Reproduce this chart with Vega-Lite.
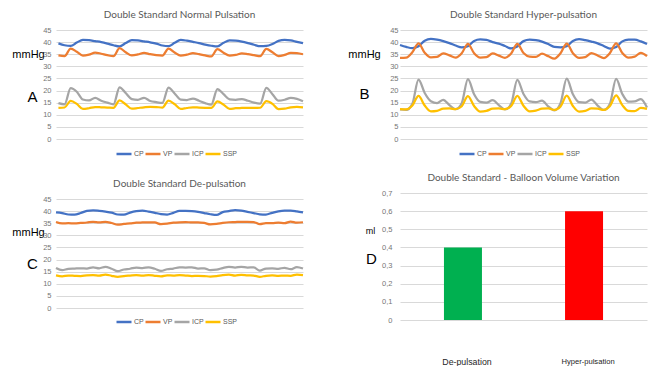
{
  "$schema": "https://vega.github.io/schema/vega-lite/v6.json",
  "padding": {"left": 11, "top": 10, "right": 0, "bottom": 0},
  "background": "white",
  "config": {
    "view": {"stroke": null},
    "axis": {"labelColor": "#767676", "labelFontSize": 7.5, "labelFont": "Liberation Sans", "gridColor": "#d9d9d9", "gridWidth": 1, "domain": false, "ticks": false, "labelPadding": 5},
    "title": {"font": "Lato", "fontSize": 10, "fontWeight": "normal", "color": "#595959", "offset": 6},
    "legend": {"labelFont": "Liberation Sans", "labelFontSize": 7, "labelColor": "#595959"}
  },
  "datasets": {
    "A": [
      {"t":0,"CP":39.5,"VP":34.5,"ICP":14.8,"SSP":12.8},
      {"t":1,"CP":38.7,"VP":34.2,"ICP":14.3,"SSP":13.0},
      {"t":2,"CP":38.4,"VP":37.3,"ICP":21.0,"SSP":15.7},
      {"t":3,"CP":39.8,"VP":36.0,"ICP":19.5,"SSP":14.5},
      {"t":4,"CP":40.9,"VP":34.4,"ICP":16.3,"SSP":12.4},
      {"t":5,"CP":40.8,"VP":34.8,"ICP":15.9,"SSP":12.7},
      {"t":6,"CP":40.4,"VP":35.7,"ICP":17.0,"SSP":13.2},
      {"t":7,"CP":40.0,"VP":35.2,"ICP":15.8,"SSP":13.1},
      {"t":8,"CP":39.4,"VP":34.6,"ICP":15.0,"SSP":13.0},
      {"t":9,"CP":38.7,"VP":34.2,"ICP":14.3,"SSP":12.9},
      {"t":10,"CP":38.2,"VP":37.5,"ICP":21.3,"SSP":15.9},
      {"t":11,"CP":39.6,"VP":35.8,"ICP":19.0,"SSP":14.3},
      {"t":12,"CP":40.8,"VP":34.5,"ICP":16.5,"SSP":12.5},
      {"t":13,"CP":40.7,"VP":34.9,"ICP":16.2,"SSP":12.8},
      {"t":14,"CP":40.3,"VP":35.6,"ICP":17.0,"SSP":13.1},
      {"t":15,"CP":39.9,"VP":35.0,"ICP":15.7,"SSP":13.3},
      {"t":16,"CP":39.4,"VP":34.6,"ICP":15.2,"SSP":13.2},
      {"t":17,"CP":38.6,"VP":34.4,"ICP":14.9,"SSP":13.0},
      {"t":18,"CP":38.3,"VP":37.3,"ICP":21.2,"SSP":15.8},
      {"t":19,"CP":39.7,"VP":35.7,"ICP":18.8,"SSP":14.4},
      {"t":20,"CP":40.9,"VP":34.4,"ICP":16.3,"SSP":12.4},
      {"t":21,"CP":40.6,"VP":34.8,"ICP":16.1,"SSP":12.8},
      {"t":22,"CP":40.1,"VP":35.5,"ICP":16.7,"SSP":13.1},
      {"t":23,"CP":39.6,"VP":35.0,"ICP":15.8,"SSP":13.0},
      {"t":24,"CP":39.0,"VP":34.5,"ICP":14.8,"SSP":12.9},
      {"t":25,"CP":38.5,"VP":34.1,"ICP":14.2,"SSP":12.8},
      {"t":26,"CP":38.2,"VP":37.1,"ICP":20.6,"SSP":15.5},
      {"t":27,"CP":39.7,"VP":35.6,"ICP":18.5,"SSP":14.2},
      {"t":28,"CP":40.7,"VP":34.4,"ICP":16.4,"SSP":12.4},
      {"t":29,"CP":40.6,"VP":34.7,"ICP":16.2,"SSP":12.7},
      {"t":30,"CP":40.2,"VP":35.3,"ICP":16.5,"SSP":12.8},
      {"t":31,"CP":39.6,"VP":35.0,"ICP":15.8,"SSP":12.9},
      {"t":32,"CP":38.9,"VP":34.6,"ICP":15.0,"SSP":12.8},
      {"t":33,"CP":38.3,"VP":34.2,"ICP":14.6,"SSP":12.9},
      {"t":34,"CP":38.4,"VP":37.2,"ICP":21.1,"SSP":15.6},
      {"t":35,"CP":39.2,"VP":35.8,"ICP":18.5,"SSP":14.5},
      {"t":36,"CP":40.5,"VP":34.2,"ICP":15.8,"SSP":12.3},
      {"t":37,"CP":40.9,"VP":34.7,"ICP":16.2,"SSP":12.5},
      {"t":38,"CP":40.7,"VP":35.6,"ICP":17.0,"SSP":13.1},
      {"t":39,"CP":40.1,"VP":35.5,"ICP":16.6,"SSP":13.3},
      {"t":40,"CP":39.6,"VP":35.0,"ICP":15.6,"SSP":13.1}
    ],
    "B": [
      {"t":0,"CP":38.8,"VP":33.5,"ICP":12.2,"SSP":12.3},
      {"t":1,"CP":38.0,"VP":33.6,"ICP":12.0,"SSP":12.2},
      {"t":2,"CP":37.5,"VP":35.8,"ICP":14.5,"SSP":13.8},
      {"t":3,"CP":38.3,"VP":39.5,"ICP":24.5,"SSP":17.8},
      {"t":4,"CP":40.6,"VP":35.6,"ICP":19.0,"SSP":13.8},
      {"t":5,"CP":41.3,"VP":33.7,"ICP":15.6,"SSP":11.4},
      {"t":6,"CP":41.0,"VP":33.9,"ICP":14.8,"SSP":11.6},
      {"t":7,"CP":40.4,"VP":35.4,"ICP":16.2,"SSP":12.5},
      {"t":8,"CP":39.6,"VP":34.5,"ICP":14.0,"SSP":12.6},
      {"t":9,"CP":38.6,"VP":33.6,"ICP":12.3,"SSP":12.3},
      {"t":10,"CP":37.8,"VP":35.4,"ICP":14.8,"SSP":13.5},
      {"t":11,"CP":38.3,"VP":39.3,"ICP":24.7,"SSP":17.7},
      {"t":12,"CP":40.5,"VP":35.4,"ICP":18.5,"SSP":13.6},
      {"t":13,"CP":41.1,"VP":33.6,"ICP":15.3,"SSP":11.3},
      {"t":14,"CP":40.9,"VP":33.8,"ICP":15.0,"SSP":11.6},
      {"t":15,"CP":40.0,"VP":35.3,"ICP":16.0,"SSP":12.5},
      {"t":16,"CP":39.4,"VP":34.4,"ICP":14.0,"SSP":12.6},
      {"t":17,"CP":38.4,"VP":33.5,"ICP":12.2,"SSP":12.3},
      {"t":18,"CP":37.4,"VP":35.3,"ICP":14.5,"SSP":13.6},
      {"t":19,"CP":38.2,"VP":39.3,"ICP":24.4,"SSP":17.8},
      {"t":20,"CP":40.4,"VP":35.5,"ICP":18.6,"SSP":13.7},
      {"t":21,"CP":41.0,"VP":34.0,"ICP":15.5,"SSP":11.4},
      {"t":22,"CP":40.8,"VP":33.9,"ICP":15.2,"SSP":11.7},
      {"t":23,"CP":40.2,"VP":35.2,"ICP":15.8,"SSP":12.5},
      {"t":24,"CP":39.2,"VP":34.2,"ICP":13.5,"SSP":12.6},
      {"t":25,"CP":38.0,"VP":33.2,"ICP":11.8,"SSP":12.0},
      {"t":26,"CP":37.8,"VP":35.4,"ICP":14.8,"SSP":13.4},
      {"t":27,"CP":38.3,"VP":39.4,"ICP":24.9,"SSP":17.9},
      {"t":28,"CP":40.5,"VP":35.4,"ICP":18.5,"SSP":13.6},
      {"t":29,"CP":41.2,"VP":33.5,"ICP":15.2,"SSP":11.3},
      {"t":30,"CP":40.8,"VP":33.8,"ICP":15.0,"SSP":11.6},
      {"t":31,"CP":40.2,"VP":35.5,"ICP":16.3,"SSP":12.6},
      {"t":32,"CP":39.5,"VP":34.5,"ICP":13.8,"SSP":12.5},
      {"t":33,"CP":38.4,"VP":33.4,"ICP":12.0,"SSP":12.0},
      {"t":34,"CP":37.3,"VP":35.5,"ICP":14.6,"SSP":13.6},
      {"t":35,"CP":38.0,"VP":39.5,"ICP":24.8,"SSP":18.0},
      {"t":36,"CP":40.3,"VP":35.5,"ICP":18.6,"SSP":14.0},
      {"t":37,"CP":41.0,"VP":33.6,"ICP":15.4,"SSP":11.6},
      {"t":38,"CP":41.0,"VP":34.0,"ICP":15.5,"SSP":11.5},
      {"t":39,"CP":40.3,"VP":35.6,"ICP":16.5,"SSP":12.8},
      {"t":40,"CP":39.2,"VP":34.2,"ICP":13.0,"SSP":12.4}
    ],
    "C": [
      {"t":0,"CP":39.5,"VP":35.5,"ICP":16.5,"SSP":13.5},
      {"t":1,"CP":39.2,"VP":34.9,"ICP":15.6,"SSP":13.1},
      {"t":2,"CP":38.6,"VP":35.0,"ICP":16.2,"SSP":13.4},
      {"t":3,"CP":38.5,"VP":34.9,"ICP":16.3,"SSP":13.3},
      {"t":4,"CP":39.2,"VP":35.1,"ICP":16.4,"SSP":13.2},
      {"t":5,"CP":40.1,"VP":35.3,"ICP":16.3,"SSP":13.5},
      {"t":6,"CP":40.3,"VP":35.6,"ICP":16.8,"SSP":13.6},
      {"t":7,"CP":40.1,"VP":35.4,"ICP":16.4,"SSP":13.4},
      {"t":8,"CP":39.8,"VP":35.6,"ICP":17.0,"SSP":13.8},
      {"t":9,"CP":39.4,"VP":35.1,"ICP":16.2,"SSP":13.3},
      {"t":10,"CP":38.6,"VP":34.4,"ICP":15.2,"SSP":12.9},
      {"t":11,"CP":38.5,"VP":34.7,"ICP":15.9,"SSP":13.2},
      {"t":12,"CP":39.4,"VP":34.9,"ICP":16.2,"SSP":13.4},
      {"t":13,"CP":40.0,"VP":35.2,"ICP":16.7,"SSP":13.6},
      {"t":14,"CP":40.2,"VP":35.3,"ICP":16.5,"SSP":13.4},
      {"t":15,"CP":39.8,"VP":35.4,"ICP":16.8,"SSP":13.6},
      {"t":16,"CP":39.3,"VP":35.3,"ICP":16.2,"SSP":13.3},
      {"t":17,"CP":38.8,"VP":34.6,"ICP":15.3,"SSP":13.1},
      {"t":18,"CP":38.6,"VP":34.8,"ICP":16.0,"SSP":13.5},
      {"t":19,"CP":39.3,"VP":35.2,"ICP":16.3,"SSP":13.4},
      {"t":20,"CP":40.1,"VP":35.4,"ICP":16.8,"SSP":13.6},
      {"t":21,"CP":40.1,"VP":35.5,"ICP":16.7,"SSP":13.4},
      {"t":22,"CP":40.0,"VP":35.3,"ICP":16.8,"SSP":13.2},
      {"t":23,"CP":39.7,"VP":35.4,"ICP":16.3,"SSP":13.3},
      {"t":24,"CP":39.2,"VP":35.1,"ICP":16.4,"SSP":13.2},
      {"t":25,"CP":38.7,"VP":34.5,"ICP":15.6,"SSP":13.0},
      {"t":26,"CP":38.4,"VP":34.7,"ICP":15.8,"SSP":13.2},
      {"t":27,"CP":39.6,"VP":35.1,"ICP":16.5,"SSP":13.6},
      {"t":28,"CP":40.0,"VP":35.4,"ICP":17.0,"SSP":13.8},
      {"t":29,"CP":40.4,"VP":35.5,"ICP":16.7,"SSP":13.4},
      {"t":30,"CP":40.2,"VP":35.6,"ICP":17.0,"SSP":13.7},
      {"t":31,"CP":39.7,"VP":35.6,"ICP":16.7,"SSP":13.5},
      {"t":32,"CP":39.2,"VP":35.5,"ICP":16.8,"SSP":13.4},
      {"t":33,"CP":38.7,"VP":34.6,"ICP":15.4,"SSP":12.9},
      {"t":34,"CP":38.6,"VP":35.0,"ICP":16.3,"SSP":13.3},
      {"t":35,"CP":39.3,"VP":35.0,"ICP":16.4,"SSP":13.5},
      {"t":36,"CP":39.9,"VP":35.2,"ICP":16.2,"SSP":13.3},
      {"t":37,"CP":40.2,"VP":35.0,"ICP":16.6,"SSP":13.4},
      {"t":38,"CP":40.2,"VP":35.7,"ICP":16.0,"SSP":13.3},
      {"t":39,"CP":39.9,"VP":35.2,"ICP":16.9,"SSP":13.8},
      {"t":40,"CP":39.5,"VP":35.4,"ICP":16.3,"SSP":13.6}
    ],
    "D": [
      {"group": "De-pulsation", "volume": 0.4},
      {"group": "Hyper-pulsation", "volume": 0.6}
    ]
  },
  "hconcat": [
    {
      "vconcat": [
        {
          "width": 247, "height": 109,
          "title": "Double Standard Normal Pulsation",
          "data": {"name": "A"},
          "transform": [{"fold": ["CP", "VP", "ICP", "SSP"], "as": ["series", "value"]}],
          "layer": [
            {
              "mark": {"type": "line", "interpolate": "monotone", "strokeWidth": 2.25},
              "encoding": {
                "x": {"field": "t", "type": "quantitative", "axis": null, "scale": {"domain": [-0.4, 40], "nice": false, "zero": false}},
                "y": {"field": "value", "type": "quantitative", "scale": {"domain": [0, 45], "nice": false}, "axis": {"values": [0,5,10,15,20,25,30,35,40,45], "title": "mmHg", "titleAngle": 0, "titleX": -28, "titleY": 24, "titleAlign": "center", "titleBaseline": "middle", "titleFont": "Liberation Sans", "titleFontSize": 11, "titleFontWeight": "normal", "titleColor": "#000000"}},
                "color": {"field": "series", "type": "nominal", "sort": ["CP", "VP", "ICP", "SSP"], "scale": {"domain": ["CP", "VP", "ICP", "SSP"], "range": ["#4472C4", "#ED7D31", "#A5A5A5", "#FFC000"]}, "legend": {"orient": "none", "legendX": 59, "legendY": 115, "direction": "horizontal", "title": null, "symbolType": "stroke", "symbolSize": 225, "symbolStrokeWidth": 2.5, "labelOffset": 1, "columnPadding": -10}}
              }
            },
            {
              "mark": {"type": "rule", "opacity": 0},
              "encoding": {
                "y": {"datum": 0, "type": "quantitative", "axis": {"orient": "left", "labels": false, "grid": false, "title": "A", "titleAngle": 0, "titleX": -24, "titleY": 66, "titleAlign": "center", "titleBaseline": "middle", "titleFont": "Liberation Sans", "titleFontSize": 15, "titleFontWeight": "normal", "titleColor": "#000000"}}
              }
            }
          ],
          "resolve": {"axis": {"y": "independent"}}
        },
        {
          "width": 247, "height": 109,
          "title": "Double Standard De-pulsation",
          "data": {"name": "C"},
          "transform": [{"fold": ["CP", "VP", "ICP", "SSP"], "as": ["series", "value"]}],
          "layer": [
            {
              "mark": {"type": "line", "interpolate": "monotone", "strokeWidth": 2.25},
              "encoding": {
                "x": {"field": "t", "type": "quantitative", "axis": null, "scale": {"domain": [0, 40], "nice": false, "zero": false}},
                "y": {"field": "value", "type": "quantitative", "scale": {"domain": [0, 45], "nice": false}, "axis": {"values": [0,5,10,15,20,25,30,35,40,45], "title": "mmHg", "titleAngle": 0, "titleX": -28, "titleY": 33, "titleAlign": "center", "titleBaseline": "middle", "titleFont": "Liberation Sans", "titleFontSize": 11, "titleFontWeight": "normal", "titleColor": "#000000"}},
                "color": {"field": "series", "type": "nominal", "sort": ["CP", "VP", "ICP", "SSP"], "scale": {"domain": ["CP", "VP", "ICP", "SSP"], "range": ["#4472C4", "#ED7D31", "#A5A5A5", "#FFC000"]}, "legend": {"orient": "none", "legendX": 59, "legendY": 114, "direction": "horizontal", "title": null, "symbolType": "stroke", "symbolSize": 225, "symbolStrokeWidth": 2.5, "labelOffset": 1, "columnPadding": -10}}
              }
            },
            {
              "mark": {"type": "rule", "opacity": 0},
              "encoding": {
                "y": {"datum": 0, "type": "quantitative", "axis": {"orient": "left", "labels": false, "grid": false, "title": "C", "titleAngle": 0, "titleX": -24, "titleY": 64, "titleAlign": "center", "titleBaseline": "middle", "titleFont": "Liberation Sans", "titleFontSize": 15, "titleFontWeight": "normal", "titleColor": "#000000"}}
              }
            }
          ],
          "resolve": {"axis": {"y": "independent"}}
        }
      ],
      "spacing": 60,
      "bounds": "flush",
      "resolve": {"scale": {"color": "independent"}}
    },
    {
      "vconcat": [
        {
          "width": 247, "height": 109,
          "title": "Double Standard Hyper-pulsation",
          "data": {"name": "B"},
          "transform": [{"fold": ["CP", "VP", "ICP", "SSP"], "as": ["series", "value"]}],
          "layer": [
            {
              "mark": {"type": "line", "interpolate": "monotone", "strokeWidth": 2.25},
              "encoding": {
                "x": {"field": "t", "type": "quantitative", "axis": null, "scale": {"domain": [0, 40], "nice": false, "zero": false}},
                "y": {"field": "value", "type": "quantitative", "scale": {"domain": [0, 45], "nice": false}, "axis": {"values": [0,5,10,15,20,25,30,35,40,45], "labelPadding": 2, "title": "mmHg", "titleAngle": 0, "titleX": -36, "titleY": 24, "titleAlign": "center", "titleBaseline": "middle", "titleFont": "Liberation Sans", "titleFontSize": 11, "titleFontWeight": "normal", "titleColor": "#000000"}},
                "color": {"field": "series", "type": "nominal", "sort": ["CP", "VP", "ICP", "SSP"], "scale": {"domain": ["CP", "VP", "ICP", "SSP"], "range": ["#4472C4", "#ED7D31", "#A5A5A5", "#FFC000"]}, "legend": {"orient": "none", "legendX": 58, "legendY": 115, "direction": "horizontal", "title": null, "symbolType": "stroke", "symbolSize": 225, "symbolStrokeWidth": 2.5, "labelOffset": 1, "columnPadding": -10}}
              }
            },
            {
              "mark": {"type": "rule", "opacity": 0},
              "encoding": {
                "y": {"datum": 0, "type": "quantitative", "axis": {"orient": "left", "labels": false, "grid": false, "title": "B", "titleAngle": 0, "titleX": -36, "titleY": 63, "titleAlign": "center", "titleBaseline": "middle", "titleFont": "Liberation Sans", "titleFontSize": 15, "titleFontWeight": "normal", "titleColor": "#000000"}}
              }
            }
          ],
          "resolve": {"axis": {"y": "independent"}}
        },
        {
          "width": 247, "height": 127,
          "title": "Double Standard - Balloon Volume Variation",
          "data": {"name": "D"},
          "layer": [
            {
              "mark": {"type": "bar", "size": 38},
              "encoding": {
                "x": {"field": "group", "type": "nominal", "sort": null, "scale": {"paddingInner": 0.5, "paddingOuter": 0.27}, "axis": {"title": null, "labelAngle": 0, "grid": false, "labelPadding": 37, "labelOffset": 4, "labelColor": "#262626", "labelFont": "Liberation Sans", "labelFontSize": {"condition": {"test": "datum.value == 'De-pulsation'", "value": 8.8}, "value": 7.6}}},
                "y": {"field": "volume", "type": "quantitative", "scale": {"domain": [0, 0.7], "nice": false}, "axis": {"values": [0, 0.1, 0.2, 0.3, 0.4, 0.5, 0.6, 0.7], "labelExpr": "datum.value == 0 ? '0' : replace(format(datum.value, '.1f'), '.', ',')", "labelPadding": 8, "title": "ml", "titleAngle": 0, "titleX": -30, "titleY": 37, "titleAlign": "center", "titleBaseline": "middle", "titleFont": "Liberation Sans", "titleFontSize": 9, "titleFontWeight": "normal", "titleColor": "#000000"}},
                "color": {"field": "group", "type": "nominal", "scale": {"domain": ["De-pulsation", "Hyper-pulsation"], "range": ["#00B050", "#FF0000"]}, "legend": null}
              }
            },
            {
              "mark": {"type": "rule", "opacity": 0},
              "encoding": {
                "y": {"datum": 0, "type": "quantitative", "axis": {"orient": "left", "labels": false, "grid": false, "title": "D", "titleAngle": 0, "titleX": -29, "titleY": 65, "titleAlign": "center", "titleBaseline": "middle", "titleFont": "Liberation Sans", "titleFontSize": 15, "titleFontWeight": "normal", "titleColor": "#000000"}}
              }
            }
          ],
          "resolve": {"axis": {"y": "independent"}}
        }
      ],
      "spacing": 54,
      "bounds": "flush",
      "resolve": {"scale": {"color": "independent"}}
    }
  ],
  "spacing": 39,
  "resolve": {"scale": {"color": "independent"}}
}
